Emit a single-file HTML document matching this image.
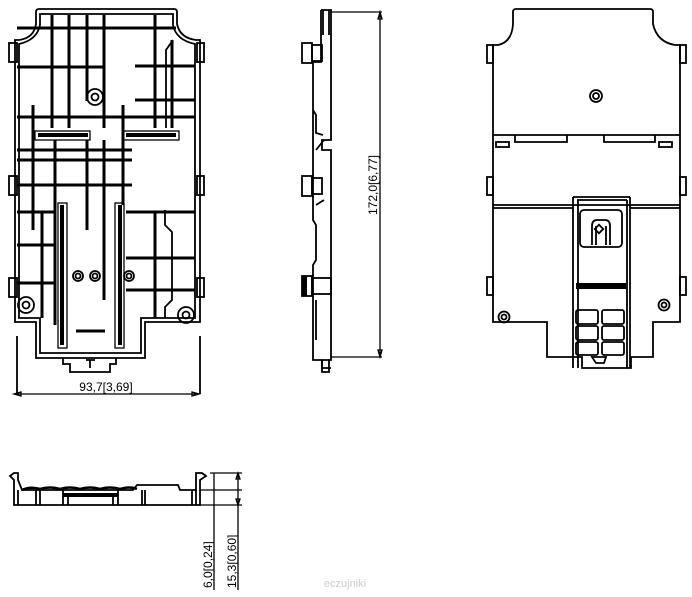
<!DOCTYPE html>
<html><head><meta charset="utf-8"><style>
html,body{margin:0;padding:0;background:#fff;width:692px;height:597px;overflow:hidden}
svg{display:block}
text{font-family:"Liberation Sans",sans-serif;fill:#000}
</style></head><body>
<svg width="692" height="597" viewBox="0 0 692 597" xmlns="http://www.w3.org/2000/svg">
<g fill="none" stroke="#000" stroke-width="1.8">
<path d="M36,12 Q36,9 39,9 L174,9 Q177,9 177,12 L177,24 Q180,38 196,40 L200,40 L200,322 L145,322 L145,358 L36,358 L36,322 L15,322 L15,40 L19,40 Q34,38 36,24 Z"/>
<path d="M40,14 L173,14 L173,25 Q176,40 195,44 L195,318 L141,318 L141,353 L40,353 L40,318 L19,318 L19,44 Q37,40 40,25 Z"/>
<path d="M63,358 L63,364 L70,364 L70,372 L110,372 L110,364 L116,364 L116,358"/>
<path d="M86,360 L95,360 M90,360 L90,368"/>
<rect x="9" y="43" width="8" height="19"/><rect x="9" y="176" width="8" height="19"/><rect x="9" y="278" width="8" height="19"/>
<rect x="197" y="43" width="7" height="19"/><rect x="197" y="176" width="7" height="19"/><rect x="197" y="278" width="7" height="19"/>
<circle cx="95" cy="97" r="8"/><circle cx="95" cy="97" r="3.5"/>
<circle cx="26" cy="305" r="8"/><circle cx="26" cy="305" r="3.5"/>
<circle cx="186" cy="315" r="8"/><circle cx="186" cy="315" r="3.5"/>
<circle cx="78" cy="276" r="5"/><circle cx="78" cy="276" r="2.5"/>
<circle cx="95" cy="276" r="5"/><circle cx="95" cy="276" r="2.5"/>
<circle cx="129" cy="276" r="5"/><circle cx="129" cy="276" r="2.5"/>
<path d="M173,40 L166,50 L166,128 M165,210 L165,225 L172,232 L172,300 L165,307 L165,318"/>
<path d="M17,336 L17,394 M200,336 L200,394"/>
</g>
<g stroke="#000" stroke-width="3" fill="none">
<path d="M52,15 V128 M69,15 V128 M87,15 V101 M104,15 V128 M155,15 V128 M172,40 V128"/>
<path d="M17,28 H176 M17,67 H104 M135,66 H195 M135,100 H195 M17,117 H195"/>
<path d="M33,105 V230 M55,140 V325 M87,140 V230 M104,140 V300 M123,105 V205"/>
<path d="M17,150 H132 M17,160 H132 M17,185 H132"/>
<path d="M17,212 H55 M126,212 H195 M17,245 H55 M126,258 H195 M17,283 H55 M126,290 H195 M42,212 V318 M155,212 V318"/>
<path d="M76,331 H105"/>
</g>
<g stroke="#000" stroke-width="4" fill="none">
<path d="M38,135 H88 M126,135 H176"/>
<path d="M62,205 V345 M120,205 V345"/>
</g>
<g stroke="#000" stroke-width="1.3" fill="none">
<rect x="35" y="131" width="55" height="9"/><rect x="123" y="131" width="56" height="9"/>
<rect x="58" y="203" width="9" height="145"/><rect x="115" y="203" width="9" height="145"/>
<path d="M14,394 H199 M14,394 l7,-2 v4 z M199,394 l-7,-2 v4 z"/>
</g>
<text x="106" y="391" font-size="12" text-anchor="middle">93,7[3,69]</text>

<g fill="none" stroke="#000" stroke-width="1.8">
<path d="M321,10 L331,10 L331,140 L322,140 L322,150 L331,150 L331,360 L322,360 L322,368 L331,368"/>
<path d="M321,10 L321,62 L313,62 L313,110 L316,115 L316,133 L323,135 M313,62 V170 L313,220 L316,225 L316,260 L313,265 L313,360 L322,360"/>
<path d="M322,360 L322,372 L329,372 L329,360"/>
<rect x="302" y="43" width="10" height="20"/><rect x="312" y="45" width="10" height="16"/>
<rect x="302" y="176" width="10" height="20"/><rect x="312" y="178" width="10" height="16"/>
<rect x="302" y="276" width="10" height="20"/><rect x="312" y="278" width="19" height="16"/>
<path d="M323,10 V35 M329,10 V35 M316,150 L324,140 M316,205 L324,200 M316,300 L316,340"/>
</g>
<g fill="none" stroke="#000" stroke-width="1.3">
<path d="M331,12 H382 M331,357 H382 M380,12 V357 M380,12 l-2,7 h4 z M380,357 l-2,-7 h4 z"/>
</g>
<rect x="302" y="276" width="5" height="20" fill="#000"/>
<text transform="translate(377,185) rotate(-90)" font-size="12" text-anchor="middle">172,0[6,77]</text>

<g fill="none" stroke="#000" stroke-width="1.8">
<path d="M513,12 Q513,9 516,9 L650,9 Q653,9 653,12 L653,24 Q657,42 675,45 L680,45 L680,322 L653,322 L653,357 L631,357 L631,368 L582,368 L582,357 L547,357 L547,322 L493,322 L493,45 L498,45 Q512,42 513,24 Z"/>
<path d="M493,135 H680 M493,205 H680 M493,208 H573 M630,208 H680"/>
<path d="M515,135 L515,142 L567,142 L567,135 M604,135 L604,142 L655,142 L655,135"/>
<rect x="496" y="142" width="13" height="5"/><rect x="659" y="142" width="13" height="5"/>
<rect x="487" y="45" width="6" height="18"/><rect x="487" y="177" width="6" height="18"/><rect x="487" y="277" width="6" height="18"/>
<rect x="680" y="45" width="6" height="18"/><rect x="680" y="177" width="6" height="18"/><rect x="680" y="277" width="6" height="18"/>
<circle cx="596" cy="96" r="6"/><circle cx="596" cy="96" r="3"/>
<circle cx="504" cy="317" r="5.5"/><circle cx="504" cy="317" r="2.5"/>
<circle cx="664" cy="305" r="5.5"/><circle cx="664" cy="305" r="2.5"/>
<path d="M573,197 L573,368 M630,197 L630,368 M573,197 H630 M577,200 H627 M578,200 V368 M627,200 V368"/>
<rect x="580" y="210" width="42" height="37" rx="4"/>
<path d="M592,245 V226 Q592,220 597,220 L605,220 Q610,220 610,226 V245 M596,245 V226 M606,245 V226"/>
<rect x="596" y="226" width="6" height="6" transform="rotate(45 599 229)"/>
<rect x="576" y="310" width="22" height="14" rx="2"/><rect x="602" y="310" width="22" height="14" rx="2"/>
<rect x="576" y="326" width="22" height="14" rx="2"/><rect x="602" y="326" width="22" height="14" rx="2"/>
<rect x="576" y="342" width="22" height="13" rx="2"/><rect x="602" y="342" width="22" height="13" rx="2"/>
<path d="M592,357 L606,357 L604,363 L596,363 Z"/>
</g>
<rect x="576" y="283" width="50" height="6" fill="#000"/>

<g fill="none" stroke="#000" stroke-width="1.8">
<path d="M14,473 L10,476 L14,480 L14,505 L200,505 L200,480 L206,476 L202,473 L196,473 L196,490 L180,490 L178,485 L137,485 L133,490 L22,490 L18,480 L18,473 Z"/>
<path d="M18,490 V505 M36,490 V505 M40,490 V505 M63,490 V505 M118,490 V505 M142,490 V505 M145,490 V505 M192,490 V505 M196,490 V505 M63,494 H118 M68,494 V505 M113,494 V505"/>
</g>
<g fill="none" stroke="#000" stroke-width="1.3">
<path d="M210,473 H242 M200,490 H242 M198,505 H242 M214,473 V590 M238,473 V590 M238,473 l-2,6 h4 z M238,505 l-2,-6 h4 z"/>
</g>
<path d="M22,490 Q30,486 40,489 Q50,486 60,489 Q70,486 80,489 Q90,486 100,489 Q110,486 120,489 Q130,486 137,489" stroke="#000" stroke-width="2.5" fill="none"/>
<rect x="63" y="493" width="55" height="4" fill="#000"/>
<text transform="translate(212,588) rotate(-90)" font-size="12">6,0[0,24]</text>
<text transform="translate(236,588) rotate(-90)" font-size="12">15,3[0,60]</text>

<text x="345" y="587" font-size="11" style="fill:#ccc" text-anchor="middle">eczujniki</text>
</svg>
</body></html>
